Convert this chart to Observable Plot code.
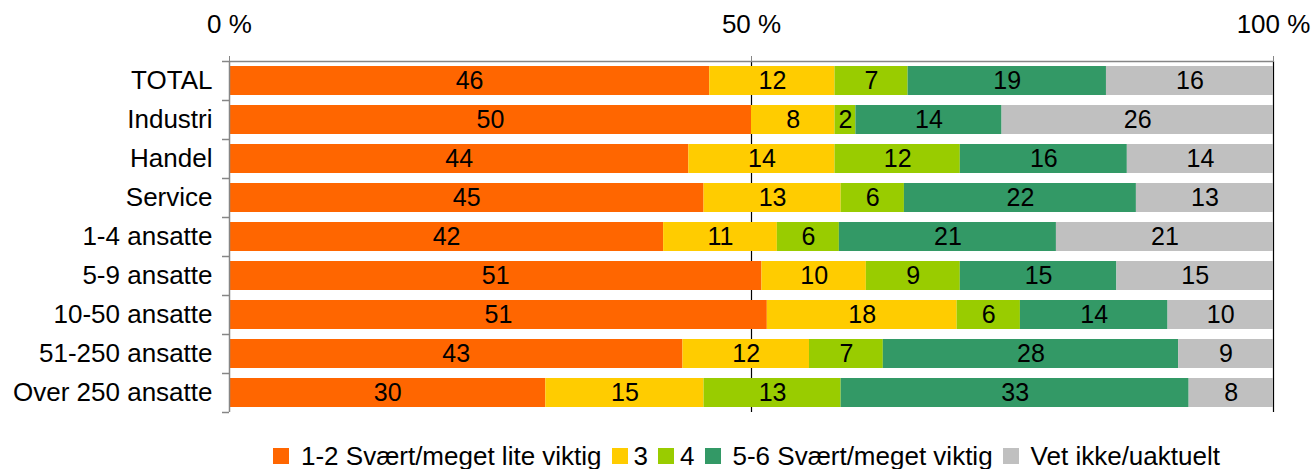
<!DOCTYPE html>
<html><head><meta charset="utf-8">
<script src="https://cdn.jsdelivr.net/npm/d3@7"></script>
<script src="https://cdn.jsdelivr.net/npm/@observablehq/plot@0.6"></script>
<style>
body{margin:0;background:#fff;font-family:"Liberation Sans",Arial,sans-serif;}
#legend{display:flex;align-items:center;height:26px;padding-top:18px;padding-left:273px;font-size:26px;line-height:26px;color:#000;white-space:nowrap;}
#legend .item{display:flex;align-items:center;margin-right:10px;}
#legend .sw{width:16px;height:16px;display:inline-block;}
</style></head><body>
<div id="chart"></div><div id="legend"></div>
<script>
const categories = ["TOTAL","Industri","Handel","Service","1-4 ansatte","5-9 ansatte","10-50 ansatte","51-250 ansatte","Over 250 ansatte"];
const seriesNames = ["1-2 Svært/meget lite viktig","3","4","5-6 Svært/meget viktig","Vet ikke/uaktuelt"];
const seriesColors = ["#FF6600","#FFCC00","#99CC00","#339966","#C0C0C0"];
const lowValues = [46,50,44,45,42,51,51,43,30];
const threeValues = [12,8,14,13,11,10,18,12,15];
const fourValues = [7,2,12,6,6,9,6,7,13];
const highValues = [19,14,16,22,21,15,14,28,33];
const unknownValues = [16,26,14,13,21,15,10,9,8];
const xTickValues = [0, 0.5, 1];
const xTickLabels = ["0 %","50 %","100 %"];

const seriesValues = [lowValues, threeValues, fourValues, highValues, unknownValues];
const data = [];
categories.forEach((c, i) => seriesNames.forEach((s, j) => data.push({category: c, series: s, value: seriesValues[j][i]})));

const gray = "#868686";
const step = 39;
const chart = Plot.plot({
  width: 1313, height: 425,
  marginLeft: 229, marginRight: 40, marginTop: 61, marginBottom: 13,
  style: {fontFamily: "Liberation Sans, Arial, sans-serif", fontSize: "26px", background: "white", color: "black"},
  x: {domain: [0, 1], axis: null},
  y: {domain: categories, paddingInner: 0.25, paddingOuter: 0.125, axis: null},
  color: {domain: seriesNames, range: seriesColors},
  marks: [
    Plot.ruleX([0.5, 1], {stroke: "black", strokeWidth: 1.2}),
    Plot.barX(data, Plot.stackX({x: "value", y: "category", fill: "series", order: seriesNames, offset: "normalize"})),
    Plot.text(data, Plot.stackX({x: "value", y: "category", z: "series", text: "value", order: seriesNames, offset: "normalize", fontSize: 25, fill: "black"})),
    Plot.ruleX([0], {stroke: gray, strokeWidth: 1.5}),
    Plot.ruleY([categories[0]], {x1: 0, x2: 1, dy: -step / 2, stroke: gray, strokeWidth: 1.5}),
    Plot.ruleY(categories, {x1: -7 / 1044, x2: 0, dy: -step / 2, stroke: gray, strokeWidth: 1.5}),
    Plot.ruleY([categories[categories.length - 1]], {x1: -7 / 1044, x2: 0, dy: step / 2, stroke: gray, strokeWidth: 1.5}),
    Plot.axisX({anchor: "top", ticks: xTickValues, tickFormat: (d) => xTickLabels[xTickValues.indexOf(d)], tickSize: 6, tickPadding: 23, stroke: gray, fill: "black", fontSize: 26, label: null}),
    Plot.axisY({anchor: "left", tickSize: 0, tickPadding: 17, fontSize: 26, fill: "black", label: null})
  ]
});
document.getElementById("chart").appendChild(chart);

const legend = d3.select("#legend");
seriesNames.forEach((s, i) => {
  const item = legend.append("div").attr("class", "item");
  item.append("span").attr("class", "sw").style("background", seriesColors[i]);
  item.append("span").style("margin-left", s.length > 2 ? "12px" : "6px").text(s);
});
</script>
</body></html>
